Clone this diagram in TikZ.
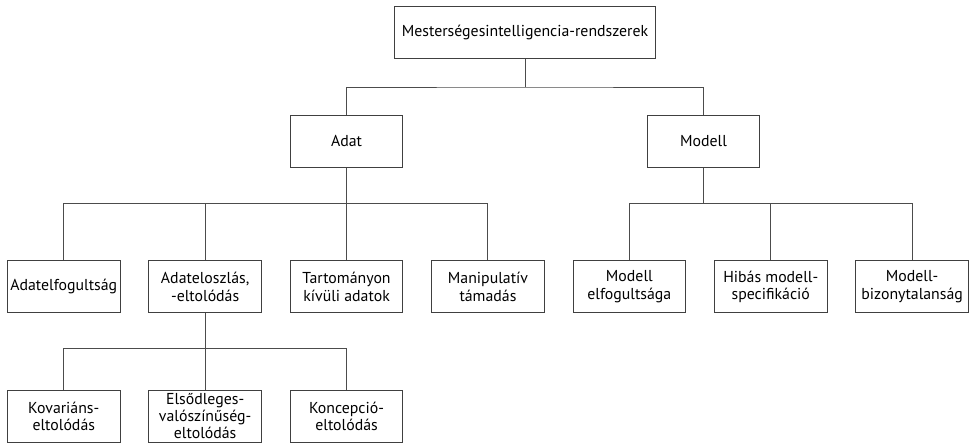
\documentclass[tikz,border=0pt]{standalone}
\usepackage{fontspec}
\setmainfont{PT Sans}
\usetikzlibrary{positioning, calc}

\begin{document}
\begin{tikzpicture}[
    node distance=46.5pt and 14pt,
    item/.style={rectangle, draw=black!75, line width=0.5pt, align=center, minimum width=57pt, minimum height=26.5pt, inner sep=1pt, font=\fontsize{8}{8.8}\selectfont},
    wide/.style={minimum width=132pt},
    link/.style={draw=black!70, line width=0.5pt},
    ]
    % Nodes: third level, left to right
    \node[item] (bias) {Adatelfogultság};
    \node[item] (shift) [right=14pt of bias] {Adateloszlás,\\-eltolódás};
    \node[item] (ood) [right=14pt of shift] {Tartományon\\kívüli adatok};
    \node[item] (attack) [right=14pt of ood] {Manipulatív\\támadás};
    \node[item] (mbias) [right=14pt of attack] {Modell\\elfogultsága};
    \node[item] (misspec) [right=14pt of mbias] {Hibás modell-\\specifikáció};
    \node[item] (uncert) [right=14pt of misspec] {Modell-\\bizonytalanság};

    % Nodes: upper levels
    \node[item] (data) [above=46.5pt of ood] {Adat};
    \node[item] (model) [above=46.5pt of mbias, xshift=37.5pt] {Modell};
    \coordinate (mid) at ($(data.north)!0.5!(model.north)$);
    \node[item, wide] (ai) [above=28pt of mid] {Mesterségesintelligencia-rendszerek};

    % Nodes: fourth level
    \node[item] (cov) [below=38.5pt of bias] {Kovariáns-\\eltolódás};
    \node[item, font=\fontsize{8}{6.9}\selectfont] (prior) [below=38.5pt of shift] {Elsődleges-\\valószínűség-\\eltolódás};
    \node[item] (concept) [below=38.5pt of ood] {Koncepció-\\eltolódás};

    \useasboundingbox ($(bias.west |- ai.north)+(-3.5pt,3pt)$) rectangle ++(484.5pt,-221pt);

    % Lines
    \draw[link] (ai.south) -- ++(0,-14pt) coordinate (b0);
    \draw[link] (data.north) |- (b0) -| (model.north);
    \draw[link] (data.south) -- ++(0,-18pt) coordinate (b1);
    \draw[link] (bias.north) |- (b1) -| (attack.north);
    \draw[link] (shift.north) -- (shift.north |- b1);
    \draw[link] (ood.north) -- (ood.north |- b1);
    \draw[link] (model.south) -- ++(0,-18pt) coordinate (b2);
    \draw[link] (mbias.north) |- (b2) -| (uncert.north);
    \draw[link] (misspec.north) -- (misspec.north |- b2);
    \draw[link] (shift.south) -- ++(0,-17.5pt) coordinate (b3);
    \draw[link] (cov.north) |- (b3) -| (concept.north);
    \draw[link] (prior.north) -- (prior.north |- b3);
\end{tikzpicture}
\end{document}
